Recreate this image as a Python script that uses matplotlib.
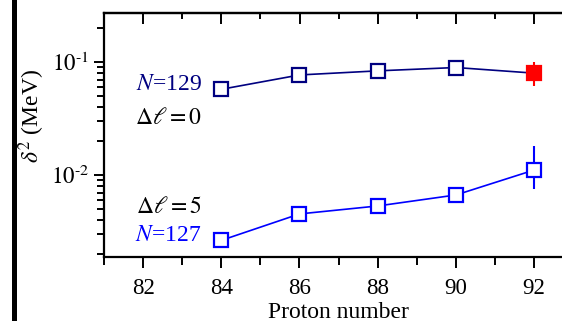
import numpy as np
import matplotlib
matplotlib.use("Agg")
import matplotlib.pyplot as plt
from matplotlib.lines import Line2D
from matplotlib.ticker import LogLocator, MultipleLocator, FuncFormatter

plt.rcParams["font.family"] = ["Liberation Serif", "DejaVu Serif"]
plt.rcParams["mathtext.fontset"] = "stix"

# proton numbers and delta^2 values (MeV)
protons = [84, 86, 88, 90, 92]
n129 = [0.0575, 0.077, 0.0837, 0.0896, 0.0799]
n127 = [0.00265, 0.00454, 0.00534, 0.00668, 0.0111]
# error bars on the Z=92 points (lower, upper)
n129_err92 = (0.0616, 0.100)
n127_err92 = (0.0075, 0.0182)

NAVY = "#000080"
BLUE = "#0000FF"
RED = "#FF0000"

fig = plt.figure(figsize=(5.62, 3.21), dpi=100)
W, H = 562, 321
# axes runs past the right edge, like the cropped original
ax = fig.add_axes([104 / W, 1 - 256.7 / H, 12 * 39.1 / W, (256.7 - 13) / H])
ax.set_xlim(81, 93)
ax.set_ylim(0.0019, 0.272)
ax.set_yscale("log")

ms = 10
mew = 1.6
# N=129, dl=0
ax.plot(protons[:4], n129[:4], color=NAVY, lw=1.2, marker="s", ms=ms,
        mfc="white", mec=NAVY, mew=mew, zorder=3)
ax.plot(protons[3:], n129[3:], color=NAVY, lw=1.2, zorder=2)
ax.vlines(protons[4], n129_err92[0], n129_err92[1], color=RED, lw=1.5, zorder=3)
ax.plot(protons[4], n129[4], marker="s", ms=ms, mfc=RED, mec=RED, mew=mew,
        ls="none", zorder=4)

# N=127, dl=5
ax.vlines(protons[4], n127_err92[0], n127_err92[1], color=BLUE, lw=1.5, zorder=2)
ax.plot(protons, n127, color=BLUE, lw=1.2, marker="s", ms=ms,
        mfc="white", mec=BLUE, mew=mew, zorder=3)

for side in ["left", "bottom", "top", "right"]:
    ax.spines[side].set_linewidth(1.6)


def pow_label(v, pos):
    e = int(round(np.log10(v)))
    return r"$10^{\text{-}%d}$" % (-e) if e < 0 else r"$10^{%d}$" % e


ax.xaxis.set_major_locator(MultipleLocator(2))
ax.xaxis.set_minor_locator(MultipleLocator(1))
ax.yaxis.set_major_locator(LogLocator(base=10, numticks=10))
ax.yaxis.set_major_formatter(FuncFormatter(pow_label))
ax.yaxis.set_minor_locator(LogLocator(base=10, subs=np.arange(2, 10), numticks=20))
ax.tick_params(axis="both", which="both", direction="out", labelsize=16.5, width=1.4)
ax.tick_params(axis="x", which="major", length=8, pad=7)
ax.tick_params(axis="x", which="minor", length=6)
ax.tick_params(axis="y", which="major", length=7, pad=4)
ax.tick_params(axis="y", which="minor", length=5)

top = ax.secondary_xaxis("top")
top.xaxis.set_major_locator(MultipleLocator(2))
top.xaxis.set_minor_locator(MultipleLocator(1))
top.tick_params(which="both", direction="in", labeltop=False, width=1.4)
top.tick_params(which="major", length=8)
top.tick_params(which="minor", length=4)
top.spines["top"].set_linewidth(1.6)

# labels on the curves
lx = 83.5
ax.text(lx, 0.0629, r"$N$=129", color=NAVY, fontsize=17, ha="right", va="center")
ax.text(lx, 0.032, r"$\Delta\ell = 0$", color="black", fontsize=17, ha="right", va="center")
ax.text(lx, 0.0052, r"$\Delta\ell = 5$", color="black", fontsize=17, ha="right", va="center")
ax.text(lx, 0.00294, r"$N$=127", color=BLUE, fontsize=17, ha="right", va="center")

fig.text(32 / W, 1 - 116 / H, r"$\delta^2$ (MeV)", rotation=90, fontsize=17,
         ha="center", va="center")
fig.text(338 / W, 1 - 317.5 / H, "Proton number", fontsize=17, ha="center", va="baseline")

# thick black bar on the left edge of the crop
fig.add_artist(Line2D([13.5 / W, 13.5 / W], [0, 1], color="black", lw=3.6,
                      transform=fig.transFigure))

fig.savefig("out.png", dpi=100)
